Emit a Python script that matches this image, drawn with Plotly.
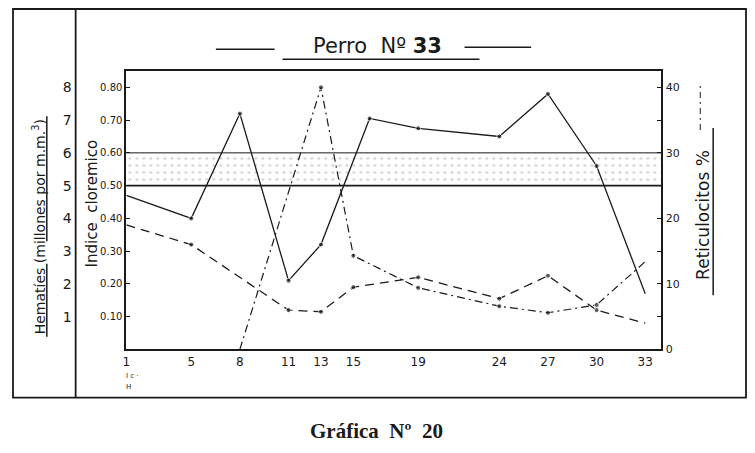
import plotly.graph_objects as go

# the page adds an 8px body margin, so the figure is made 16px smaller
W, H = 739, 437
OFF = 8

# days of observation shown on the x axis
dias_ticks = [1, 5, 8, 11, 13, 15, 19, 24, 27, 30, 33]

# hematies (millions per mm3) - solid line
hematies_dias = [1, 5, 8, 11, 13, 16, 19, 24, 27, 30, 33]
hematies = [4.7, 4.0, 7.2, 2.1, 3.2, 7.05, 6.75, 6.5, 7.8, 5.6, 1.7]

# indice cloremico - dashed line
cloremico_dias = [1, 5, 11, 13, 15, 19, 24, 27, 30, 33]
cloremico = [0.38, 0.32, 0.12, 0.115, 0.19, 0.22, 0.155, 0.225, 0.12, 0.08]

# reticulocitos % - dash-dot line
retic_dias = [8, 13, 15, 19, 24, 27, 30, 33]
reticulocitos = [0, 40, 14.3, 9.4, 6.6, 5.6, 6.8, 13.4]

# normal band of the indice cloremico
banda = [0.50, 0.60]

cloremico_ticks = [0.1, 0.2, 0.3, 0.4, 0.5, 0.6, 0.7, 0.8]
hematies_ticks = [1, 2, 3, 4, 5, 6, 7, 8]
retic_ticks = [0, 10, 20, 30, 40]
retic_minor = [5, 15, 25, 35]

x_range = [1, 34]
INK = "#1a1a1a"
HAND = "DejaVu Sans"


def px(x):
    return (x - OFF) / W


def py(y):
    return 1 - (y - OFF) / H


def ends_hidden(n, size=5):
    return [0] + [size] * (n - 2) + [0]


fig = go.Figure()

# stippled band
fig.add_trace(go.Scatter(
    x=[x_range[0], x_range[1], x_range[1], x_range[0]],
    y=[banda[0], banda[0], banda[1], banda[1]],
    fill="toself",
    mode="none",
    fillcolor="rgba(255,255,255,0)",
    fillpattern=dict(shape=".", fgcolor="#a0a0a0", bgcolor="white", size=7, solidity=0.12),
    hoverinfo="skip",
    showlegend=False,
))

fig.add_trace(go.Scatter(
    x=hematies_dias, y=hematies, yaxis="y3",
    mode="lines+markers",
    line=dict(color=INK, width=1.3),
    marker=dict(color=INK, size=ends_hidden(len(hematies))),
    showlegend=False,
))
fig.add_trace(go.Scatter(
    x=cloremico_dias, y=cloremico, yaxis="y",
    mode="lines+markers",
    line=dict(color=INK, width=1.3, dash="9px,6px"),
    marker=dict(color=INK, size=ends_hidden(len(cloremico))),
    showlegend=False,
))
fig.add_trace(go.Scatter(
    x=retic_dias, y=reticulocitos, yaxis="y2",
    mode="lines+markers",
    line=dict(color=INK, width=1.2, dash="8px,4px,2px,4px"),
    marker=dict(color=INK, size=ends_hidden(len(reticulocitos))),
    showlegend=False,
))

x_dom = [px(123), px(661)]
y_dom = [py(355), py(72)]

fig.update_layout(
    width=W, height=H,
    margin=dict(l=0, r=0, t=0, b=0),
    paper_bgcolor="white",
    plot_bgcolor="rgba(0,0,0,0)",
    font=dict(family=HAND, color=INK),
    xaxis=dict(
        domain=x_dom, range=x_range,
        tickvals=dias_ticks, ticks="",
        tickfont=dict(size=12, family=HAND),
        showgrid=False, zeroline=False,
        showline=True, linecolor=INK, linewidth=2, mirror=True,
    ),
    yaxis=dict(
        domain=y_dom, range=[0, 0.85],
        tickvals=cloremico_ticks, tickformat=".2f",
        ticks="inside", ticklen=4, tickcolor=INK,
        tickfont=dict(size=10, family=HAND),
        showgrid=False, zeroline=False,
        showline=True, linecolor=INK, linewidth=2,
    ),
    yaxis2=dict(
        overlaying="y", side="right", anchor="x",
        range=[0, 42.5],
        tickvals=retic_ticks,
        ticks="inside", ticklen=4, tickcolor=INK,
        minor=dict(tickvals=retic_minor, ticks="inside", ticklen=4, tickcolor=INK),
        tickfont=dict(size=11, family=HAND),
        showgrid=False, zeroline=False,
        showline=True, linecolor=INK, linewidth=2,
    ),
    yaxis3=dict(
        overlaying="y", side="left", anchor="free", position=px(68),
        range=[0, 8.5],
        tickvals=hematies_ticks, ticks="",
        tickfont=dict(size=14, family=HAND),
        showgrid=False, zeroline=False, showline=False,
    ),
)

shapes = [
    # outer sheet frame and left separator
    dict(type="rect", x0=px(9), x1=px(746), y0=py(404), y1=py(9), line=dict(color=INK, width=1.8)),
    dict(type="line", x0=px(72), x1=px(72), y0=py(404), y1=py(9), line=dict(color=INK, width=1.8)),
    # band borders
    dict(type="line", xref="x domain", yref="y", x0=0, x1=1, y0=banda[1], y1=banda[1],
         line=dict(color=INK, width=1)),
    dict(type="line", xref="x domain", yref="y", x0=0, x1=1, y0=banda[0], y1=banda[0],
         line=dict(color=INK, width=1.8)),
    # title dashes and underline
    dict(type="line", x0=px(213), x1=px(272), y0=py(50), y1=py(50), line=dict(color=INK, width=1.5)),
    dict(type="line", x0=px(463), x1=px(530), y0=py(48), y1=py(48), line=dict(color=INK, width=1.5)),
    dict(type="line", x0=px(280), x1=px(478), y0=py(60), y1=py(60), line=dict(color=INK, width=1.5)),
    # underlines of rotated axis titles
    dict(type="line", x0=px(43), x1=px(43), y0=py(342), y1=py(268), line=dict(color=INK, width=1.5)),
    dict(type="line", x0=px(43), x1=px(43), y0=py(245), y1=py(118), line=dict(color=INK, width=1.5)),
    dict(type="line", x0=px(713), x1=px(713), y0=py(300), y1=py(130), line=dict(color=INK, width=1.5)),
    # dash-dot sample beside Reticulocitos
    dict(type="line", x0=px(700), x1=px(700), y0=py(132), y1=py(86),
         line=dict(color=INK, width=1, dash="6px,4px,2px,4px")),
]
for s in shapes:
    s.setdefault("xref", "paper")
    s.setdefault("yref", "paper")
fig.update_layout(shapes=shapes)

annotations = [
    dict(x=px(375), y=py(47), text="Perro  Nº <b>33</b>",
         font=dict(size=21, family=HAND)),
    dict(x=px(88), y=py(207), text="Indice  cloremico", textangle=-90,
         font=dict(size=15, family=HAND)),
    dict(x=px(36), y=py(230), text="Hematíes (millones por m.m.<sup>3</sup>)", textangle=-90,
         font=dict(size=14, family=HAND)),
    dict(x=px(702), y=py(218), text="Reticulocitos %", textangle=-90,
         font=dict(size=17, family=HAND)),
    dict(x=px(121), y=py(382), text="I c ·", xanchor="left",
         font=dict(size=7, family=HAND)),
    dict(x=px(121), y=py(393), text="H", xanchor="left",
         font=dict(size=7, family=HAND)),
    dict(x=px(374), y=py(438), text="<b>Gráfica  Nº  20</b>",
         font=dict(size=21, family="Liberation Serif")),
]
for a in annotations:
    a.setdefault("xanchor", "center")
    a.update(xref="paper", yref="paper", yanchor="middle", showarrow=False)
fig.update_layout(annotations=annotations)

fig.write_html("out.html")
